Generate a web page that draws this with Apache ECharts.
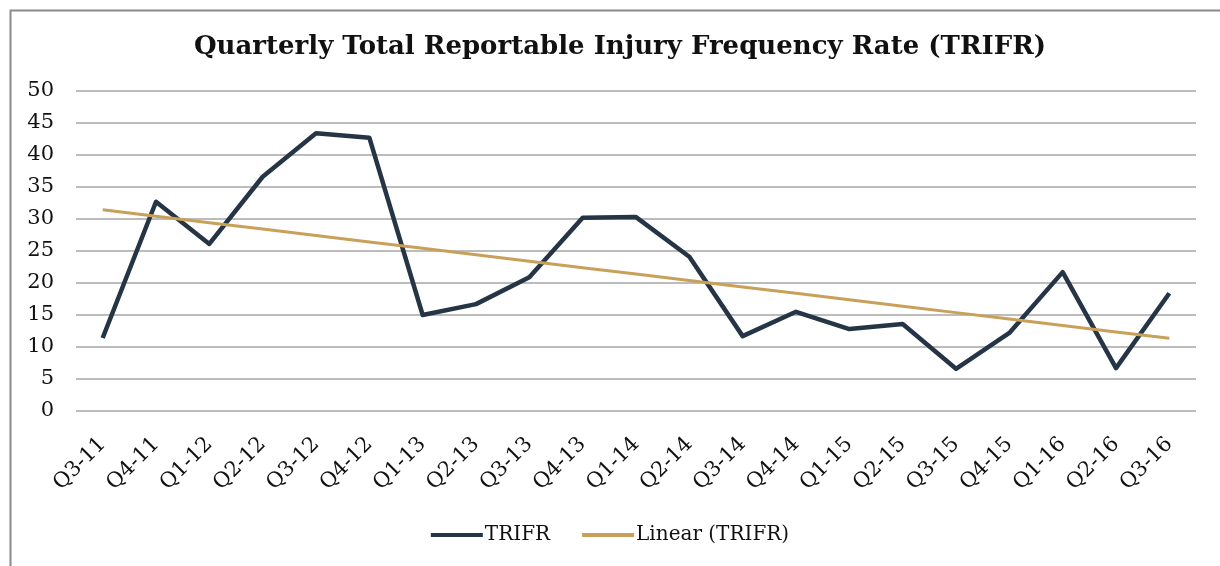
<!DOCTYPE html>
<html>
<head>
<meta charset="utf-8">
<script src="https://cdn.jsdelivr.net/npm/echarts@6/dist/echarts.min.js"></script>
<style>
html,body{margin:0;padding:0;background:#fff;}
#chart{width:1220px;height:566px;}
</style>
</head>
<body>
<div id="chart"></div>
<script>
const categories = ['Q3-11','Q4-11','Q1-12','Q2-12','Q3-12','Q4-12','Q1-13','Q2-13','Q3-13','Q4-13','Q1-14','Q2-14','Q3-14','Q4-14','Q1-15','Q2-15','Q3-15','Q4-15','Q1-16','Q2-16','Q3-16'];
const trifr = [11.4,32.7,26.1,36.6,43.4,42.7,15.0,16.7,20.9,30.2,30.3,24.1,11.7,15.5,12.8,13.6,6.6,12.2,21.7,6.7,18.4];
const yTicks = [0,5,10,15,20,25,30,35,40,45,50];

// Linear trendline (least squares on TRIFR), as Excel's "Linear (TRIFR)"
const n = trifr.length;
const mx = (n - 1) / 2;
const my = trifr.reduce((a, b) => a + b, 0) / n;
let sxy = 0, sxx = 0;
trifr.forEach((v, i) => { sxy += (i - mx) * (v - my); sxx += (i - mx) * (i - mx); });
const slope = sxy / sxx;
const trend = trifr.map((v, i) => my + slope * (i - mx));

const FONT = '"DejaVu Serif", Georgia, serif';
const chart = echarts.init(document.getElementById('chart'), null, {renderer: 'canvas'});
chart.setOption({
  animation: false,
  backgroundColor: '#fff',
  graphic: [{
    type: 'rect', left: 8, top: 8,
    shape: {width: 1240, height: 600},
    style: {fill: 'none', stroke: '#8a8a8a', lineWidth: 2}
  }],
  title: {
    text: 'Quarterly Total Reportable Injury Frequency Rate (TRIFR)',
    left: 615, top: 29, textAlign: 'center',
    textStyle: {fontFamily: FONT, fontWeight: 'bold', fontSize: 26, color: '#111'}
  },
  legend: {
    bottom: 16, left: 'center',
    itemWidth: 52, itemHeight: 4, itemGap: 32,
    icon: 'rect',
    textStyle: {fontFamily: FONT, fontSize: 20, color: '#111', padding: [0, 0, 0, -3]},
    data: ['TRIFR', 'Linear (TRIFR)']
  },
  grid: {left: 76, right: 24, top: 91, bottom: 155},
  xAxis: {
    type: 'category', data: categories, boundaryGap: true,
    axisLine: {show: false}, axisTick: {show: false},
    axisLabel: {rotate: 45, interval: 0, fontFamily: FONT, fontSize: 21, color: '#111', margin: 30}
  },
  yAxis: {
    type: 'value', min: yTicks[0], max: yTicks[yTicks.length - 1], interval: 5,
    axisLine: {show: false}, axisTick: {show: false},
    axisLabel: {fontFamily: FONT, fontSize: 21, color: '#111', margin: 22},
    splitLine: {lineStyle: {color: '#a6a6a6', width: 1.5}}
  },
  series: [{
    name: 'TRIFR', type: 'line', data: trifr,
    showSymbol: false, symbol: 'none',
    lineStyle: {color: '#253545', width: 4.5, join: 'round'},
    itemStyle: {color: '#253545'}
  }, {
    name: 'Linear (TRIFR)', type: 'line', data: trend,
    showSymbol: false, symbol: 'none',
    lineStyle: {color: '#C8A05A', width: 3},
    itemStyle: {color: '#C8A05A'}
  }]
});
</script>
</body>
</html>
